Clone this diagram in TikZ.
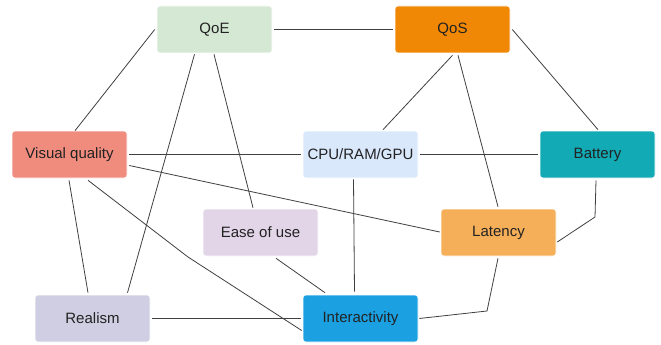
\documentclass[tikz,border=0pt]{standalone}
\usepackage{fontspec}
\setmainfont{Liberation Sans}
\definecolor{cqoe}{HTML}{D5E8D4}
\definecolor{cqos}{HTML}{F08705}
\definecolor{cvis}{HTML}{F08C7E}
\definecolor{ccpu}{HTML}{DAE8FC}
\definecolor{cbat}{HTML}{12AAB5}
\definecolor{cease}{HTML}{E1D5E7}
\definecolor{clat}{HTML}{F5AF58}
\definecolor{creal}{HTML}{D0CEE2}
\definecolor{cint}{HTML}{1BA1E2}
\definecolor{ctext}{HTML}{222222}
\begin{document}
\begin{tikzpicture}[x=1pt,y=-1pt,
  box/.style={draw=white,line width=0.6pt,rounded corners=3pt,minimum width=115pt,minimum height=47pt,inner sep=0pt,font=\fontsize{15}{18}\selectfont,text=ctext},
  link/.style={draw=black!75,line width=0.8pt}]
\useasboundingbox (0,0) rectangle (661,345);
\fill[white] (0,0) rectangle (661,345);
\node[box,fill=cqoe] (qoe) at (214.5,29.5) {QoE};
\node[box,fill=cqos] (qos) at (452.5,29.5) {QoS};
\node[box,fill=cvis] (vis) at (69.5,154.5) {Visual quality};
\node[box,fill=ccpu] (cpu) at (360.5,154.5) {CPU/RAM/GPU};
\node[box,fill=cbat] (bat) at (597.5,154.5) {Battery};
\node[box,fill=cease] (ease) at (260.5,232.5) {Ease of use};
\node[box,fill=clat] (lat) at (498.5,232.5) {Latency};
\node[box,fill=creal] (real) at (92.5,318.5) {Realism};
\node[box,fill=cint] (int) at (360.5,318.5) {Interactivity};
\coordinate (b1) at (188,257);
\coordinate (b2) at (595,217);
\coordinate (b3) at (487,311);
\begin{scope}[on background layer/.try]
\end{scope}
\draw[link] ([xshift=2pt]qoe.east) -- ([xshift=-2pt]qos.west);
\draw[link] ([xshift=-2pt]qoe.west) -- (vis.north -| 75,0);
\draw[link] ([xshift=-20pt,yshift=-1pt]qoe.south) -- ([xshift=35pt,yshift=2pt]real.north);
\draw[link] ([xshift=-0.5pt,yshift=-1pt]qoe.south) -- ([xshift=-7.5pt,yshift=1pt]ease.north);
\draw[link] ([yshift=-2pt]qos.south) -- ([xshift=22.5pt,yshift=1pt]cpu.north);
\draw[link] ([xshift=5.5pt,yshift=-2pt]qos.south) -- ([xshift=-0.5pt,yshift=2pt]lat.north);
\draw[link] ([xshift=2pt]qos.east) -- ([xshift=0.5pt,yshift=1pt]bat.north);
\draw[link] ([xshift=2pt]vis.east) -- ([xshift=-2pt]cpu.west);
\draw[link] ([xshift=2pt]cpu.east) -- ([xshift=-2pt]bat.west);
\draw[link] ([xshift=2pt,yshift=-11pt]vis.east) -- ([xshift=-1pt,yshift=0.5pt]lat.west);
\draw[link] ([xshift=-0.5pt,yshift=-2pt]vis.south) -- ([xshift=-4.5pt,yshift=2pt]real.north);
\draw[link] ([xshift=18.5pt,yshift=-2pt]vis.south) -- (b1) -- ([xshift=-1pt,yshift=-12pt]int.west);
\draw[link] ([xshift=15.5pt,yshift=-2pt]ease.south) -- ([xshift=-35.5pt,yshift=2pt]int.north);
\draw[link] ([xshift=2pt]real.east) -- ([xshift=-2pt]int.west);
\draw[link] ([xshift=-7pt,yshift=-1pt]cpu.south) -- ([xshift=-6pt,yshift=3pt]int.north);
\draw[link] ([xshift=-1.5pt,yshift=-2pt]bat.south) -- (b2) -- ([xshift=1pt,yshift=-9.5pt]lat.east);
\draw[link] ([xshift=-0.5pt,yshift=-2pt]lat.south) -- (b3) -- ([xshift=1pt]int.east);
\end{tikzpicture}
\end{document}
